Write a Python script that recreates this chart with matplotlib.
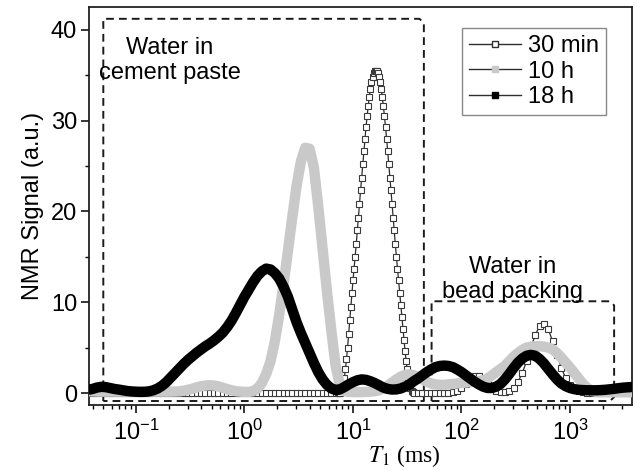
import numpy as np
import matplotlib
matplotlib.use('Agg')
import matplotlib.pyplot as plt
from matplotlib.lines import Line2D
from matplotlib.ticker import LogLocator, MultipleLocator

# T1 grid (log10 of T1 in ms)
log_t1 = np.linspace(-1.44, 3.60, 127)  # 10 h and 18 h
log_t1_30min = np.concatenate([
    np.linspace(-1.44, 0.84, 58),
    np.linspace(0.86, 1.56, 71),   # finer around the big peak
    np.linspace(1.60, 3.60, 51),
])

series_labels = ['30 min', '10 h', '18 h']

# 30 min: baseline part, big peak part, long-T1 part
sig_30min_base = [0.0] * 58
sig_30min_peak = [
    0.0, 0.0, 0.05, 0.2, 0.5, 1.0, 1.7, 2.6, 3.7, 5.0,
    6.5, 8.0, 9.5, 11.0, 12.4, 13.7, 15.0, 16.4, 17.9, 19.3,
    20.8, 22.3, 23.7, 25.2, 26.6, 28.0, 29.3, 30.5, 31.6, 32.6,
    33.5, 34.2, 34.8, 35.2, 35.4, 35.5, 35.4, 35.2, 34.8, 34.2,
    33.5, 32.6, 31.6, 30.5, 29.3, 28.0, 26.6, 25.2, 23.7, 22.3,
    20.8, 19.3, 17.9, 16.4, 15.0, 13.7, 12.4, 11.0, 9.7, 8.4,
    7.1, 5.8, 4.6, 3.5, 2.6, 1.8, 1.1, 0.6, 0.25, 0.1,
    0.0,
]
sig_30min_long = [
    0.0, 0.0, 0.0, 0.0, 0.0, 0.0, 0.0, 0.0, 0.1, 0.26,
    0.57, 1.03, 1.52, 1.85, 1.85, 1.52, 1.03, 0.57, 0.26, 0.1,
    0.13, 0.27, 0.6, 1.2, 2.2, 3.5, 5.0, 6.4, 7.4, 7.6,
    7.0, 5.7, 4.2, 2.8, 1.6, 0.87, 0.41, 0.17, 0.06, 0.02,
    0.0, 0.0, 0.0, 0.0, 0.0, 0.0, 0.0, 0.0, 0.0, 0.0,
    0.0,
]
sig_30min = sig_30min_base + sig_30min_peak + sig_30min_long

sig_10h = [
    0.2, 0.18, 0.16, 0.15, 0.15, 0.15, 0.15, 0.15, 0.15, 0.15,
    0.15, 0.15, 0.15, 0.15, 0.15, 0.15, 0.15, 0.15, 0.15, 0.15,
    0.16, 0.18, 0.25, 0.35, 0.48, 0.62, 0.74, 0.82, 0.85, 0.82,
    0.72, 0.58, 0.43, 0.3, 0.2, 0.15, 0.12, 0.12, 0.2, 0.5,
    1.1, 2.1, 3.5, 5.7, 8.6, 12.0, 15.6, 19.3, 22.8, 25.5,
    27.0, 26.9, 24.8, 20.5, 15.9, 11.2, 6.9, 3.0, 0.8, 0.2,
    0.12, 0.1, 0.1, 0.1, 0.12, 0.15, 0.2, 0.3, 0.5, 0.8,
    1.15, 1.5, 1.8, 2.0, 2.05, 1.95, 1.75, 1.5, 1.25, 1.05,
    0.95, 0.9, 0.9, 0.95, 1.0, 1.05, 1.1, 1.15, 1.2, 1.25,
    1.3, 1.4, 1.6, 1.95, 2.3, 2.65, 3.0, 3.5, 4.0, 4.4,
    4.75, 5.0, 5.1, 5.15, 5.15, 5.1, 5.0, 4.8, 4.4, 3.9,
    3.35, 2.8, 2.2, 1.6, 1.0, 0.55, 0.25, 0.12, 0.1, 0.1,
    0.1, 0.1, 0.1, 0.1, 0.1, 0.1, 0.1,
]

sig_18h = [
    0.35, 0.45, 0.6, 0.68, 0.65, 0.55, 0.45, 0.38, 0.3, 0.22,
    0.17, 0.14, 0.12, 0.13, 0.18, 0.3, 0.5, 0.8, 1.2, 1.7,
    2.2, 2.7, 3.2, 3.65, 4.05, 4.45, 4.8, 5.15, 5.45, 5.8,
    6.2, 6.65, 7.25, 7.95, 8.8, 9.7, 10.6, 11.4, 12.2, 12.9,
    13.4, 13.7, 13.6, 13.2, 12.6, 11.7, 10.6, 9.2, 7.8, 6.6,
    5.5, 4.4, 3.3, 2.3, 1.5, 0.9, 0.5, 0.33, 0.4, 0.65,
    0.95, 1.2, 1.4, 1.5, 1.45, 1.3, 1.1, 0.85, 0.6, 0.45,
    0.38, 0.4, 0.5, 0.7, 0.95, 1.3, 1.6, 1.95, 2.3, 2.6,
    2.85, 2.98, 3.02, 2.98, 2.85, 2.6, 2.3, 1.95, 1.6, 1.25,
    0.95, 0.7, 0.55, 0.55, 0.7, 1.0, 1.5, 2.1, 2.75, 3.35,
    3.8, 4.1, 4.2, 4.1, 3.75, 3.25, 2.65, 2.05, 1.5, 1.05,
    0.75, 0.55, 0.42, 0.35, 0.32, 0.3, 0.3, 0.3, 0.32, 0.35,
    0.4, 0.45, 0.52, 0.58, 0.62, 0.65, 0.68,
]

# region labels
region_texts = ['Water in\ncement paste', 'Water in\nbead packing']

plt.rcParams['font.family'] = ['Liberation Sans', 'DejaVu Sans']
plt.rcParams['font.size'] = 17
plt.rcParams['mathtext.fontset'] = 'custom'
plt.rcParams['mathtext.rm'] = 'Liberation Sans'
plt.rcParams['mathtext.it'] = 'Liberation Sans:italic'

GRAY = '#c9c9c9'
DARK = '#2e2e2e'

t1 = 10 ** log_t1
t1_30min = 10 ** log_t1_30min

fig = plt.figure(figsize=(6.37, 4.70), dpi=100)
ax = fig.add_axes([0.1397, 0.1383, 0.8524, 0.8468])

# dashed boxes around the two water populations
box_style = dict(color='#1a1a1a', lw=1.4, ls=(0, (4, 2.6)), zorder=1.5)
ax.plot([0.05, 0.05, 41, 45, 45, 0.05],
        [-0.88, 41.2, 41.2, 40.75, -0.88, -0.88], **box_style)
ax.plot([53, 53, 2330, 2550, 2550, 2330, 53],
        [-0.88, 10.1, 10.1, 9.65, -0.45, -0.88, -0.88], **box_style)

# curves
ax.plot(t1_30min, sig_30min, color=DARK, lw=0.9, marker='s', ms=5,
        mfc='white', mec='#3a3a3a', mew=0.8, zorder=3)
ax.plot(t1, sig_10h, color=GRAY, lw=7.5, solid_joinstyle='round',
        solid_capstyle='butt', zorder=4)
ax.plot(t1, sig_18h, color='black', lw=7.5, solid_joinstyle='round',
        solid_capstyle='butt', zorder=5)

ax.text(0.204, 36.6, region_texts[0], ha='center', va='center', fontsize=17)
ax.text(295, 12.5, region_texts[1], ha='center', va='center', fontsize=17)

# legend with thin-line handles as in the original
handles = [
    Line2D([], [], color=DARK, lw=1, marker='s', ms=5, mfc='white', mec=DARK),
    Line2D([], [], color=DARK, lw=1, marker='s', ms=5, mfc=GRAY, mec=GRAY),
    Line2D([], [], color=DARK, lw=1, marker='s', ms=5, mfc='black', mec='black'),
]
leg = ax.legend(handles, series_labels, loc='upper right',
                bbox_to_anchor=(0.952, 0.947), borderaxespad=0,
                fancybox=False, edgecolor='#888888', framealpha=1,
                handlelength=2.2, handletextpad=0.3, labelspacing=0.15,
                borderpad=0.3, fontsize=17)
leg.get_frame().set_linewidth(1.0)

# axes
ax.set_xscale('log')
ax.set_xlim(0.0369, 3724)
ax.set_ylim(-1.32, 42.5)
ax.yaxis.set_major_locator(MultipleLocator(10))
ax.yaxis.set_minor_locator(MultipleLocator(5))
ax.xaxis.set_major_locator(LogLocator(base=10, numticks=20))
ax.xaxis.set_minor_locator(LogLocator(base=10, subs=np.arange(2, 10), numticks=20))
ax.tick_params(which='major', direction='out', length=5.5, width=1.1,
               pad=5, top=False, right=False)
ax.tick_params(which='minor', direction='out', length=2.8, width=1.0,
               top=False, right=False)
ax.tick_params(axis='y', which='major', pad=3)
for s in ax.spines.values():
    s.set_linewidth(1.3)
    s.set_color('#222222')

ax.set_ylabel('NMR Signal (a.u.)', fontsize=17, labelpad=5)
ax.set_xlabel(r'$T_1$ (ms)', fontsize=17, fontfamily='Liberation Serif',
              math_fontfamily='stix')
ax.xaxis.set_label_coords(0.58, -0.095)

fig.savefig('out.png', dpi=100)
